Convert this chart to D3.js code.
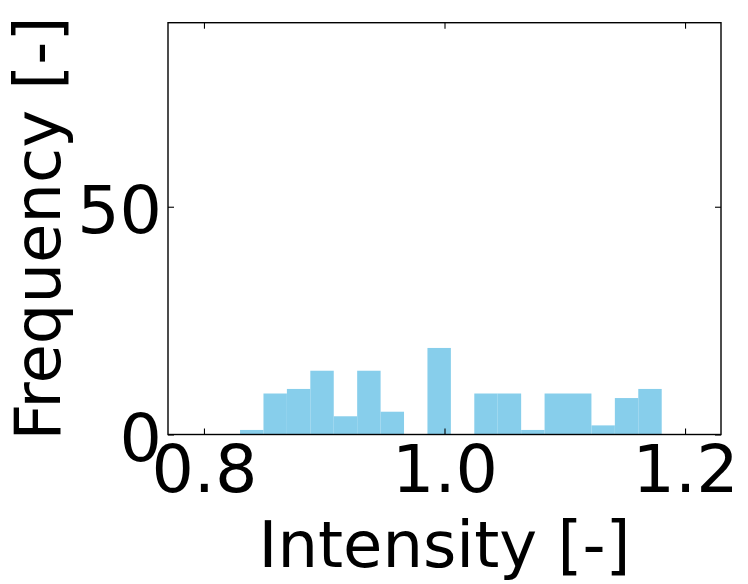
<!DOCTYPE html>
<html>
<head>
<meta charset="utf-8">
<script src="https://cdn.jsdelivr.net/npm/d3@7"></script>
<style>
  body { margin: 0; background: #fff; }
  text { font-family: "DejaVu Sans", sans-serif; }
</style>
</head>
<body>
<script>
// histogram counts, 18 equal bins between binStart and binEnd
var counts = [1, 9, 10, 14, 4, 14, 5, 0, 19, 0, 9, 9, 1, 9, 9, 2, 8, 10];
var binStart = 0.830;
var binEnd = 1.1806;
var xTicks = [0.8, 1.0, 1.2];
var yTicks = [0, 50];
var xDomain = [0.7701, 1.2299];
var yDomain = [0, 90.4];

var w = 748, h = 584;
var m = {left: 168, top: 22.7, right: 748 - 721, bottom: 584 - 434.5};
var fs = 66.7;   // tick labels
var lfs = 64;    // axis labels

var svg = d3.select('body').append('svg')
    .attr('width', w)
    .attr('height', h);

var x = d3.scaleLinear().domain(xDomain).range([m.left, w - m.right]);
var y = d3.scaleLinear().domain(yDomain).range([h - m.bottom, m.top]);

var bw = (binEnd - binStart) / counts.length;
var bins = counts.map(function(c, i){
  return {x0: binStart + i * bw, x1: binStart + (i + 1) * bw, n: c};
});

svg.append('g').selectAll('rect').data(bins).enter().append('rect')
    .attr('x', function(d){ return x(d.x0); })
    .attr('width', function(d){ return x(d.x1) - x(d.x0); })
    .attr('y', function(d){ return y(d.n); })
    .attr('height', function(d){ return y(0) - y(d.n); })
    .attr('fill', '#87ceeb');

// axes, ticks pointing inward
var bottom = svg.append('g')
    .attr('transform', 'translate(0,' + y(0) + ')')
    .call(d3.axisBottom(x).tickValues(xTicks).tickFormat(d3.format('.1f')).tickSizeInner(-6).tickSizeOuter(0));
bottom.selectAll('text').attr('y', 57.2).attr('dy', 0);

var left = svg.append('g')
    .attr('transform', 'translate(' + x.range()[0] + ',0)')
    .call(d3.axisLeft(y).tickValues(yTicks).tickFormat(d3.format('d')).tickSizeInner(-6).tickSizeOuter(0));
left.selectAll('text').attr('x', -6).attr('dy', 26);

svg.append('g')
    .attr('transform', 'translate(0,' + y.range()[1] + ')')
    .call(d3.axisTop(x).tickValues(xTicks).tickFormat('').tickSizeInner(-6).tickSizeOuter(0));
svg.append('g')
    .attr('transform', 'translate(' + x.range()[1] + ',0)')
    .call(d3.axisRight(y).tickValues(yTicks).tickFormat('').tickSizeInner(-6).tickSizeOuter(0));

svg.selectAll('.domain').remove();
svg.selectAll('.tick line').attr('stroke', '#000').attr('stroke-width', 1.1);
svg.selectAll('.tick text')
    .attr('fill', '#000')
    .style('font-size', fs + 'px')
    .style('font-family', '"DejaVu Sans", sans-serif');

svg.append('rect')
    .attr('x', x.range()[0])
    .attr('y', y.range()[1])
    .attr('width', x.range()[1] - x.range()[0])
    .attr('height', y.range()[0] - y.range()[1])
    .attr('fill', 'none')
    .attr('stroke', '#000')
    .attr('stroke-width', 1.4);

svg.append('text')
    .attr('x', (x.range()[0] + x.range()[1]) / 2)
    .attr('y', 567)
    .attr('text-anchor', 'middle')
    .style('font-size', lfs + 'px')
    .text('Intensity [-]');

svg.append('text')
    .attr('transform', 'translate(60,' + (y.range()[0] + y.range()[1]) / 2 + ') rotate(-90)')
    .attr('text-anchor', 'middle')
    .style('font-size', lfs + 'px')
    .text('Frequency [-]');
</script>
</body>
</html>
